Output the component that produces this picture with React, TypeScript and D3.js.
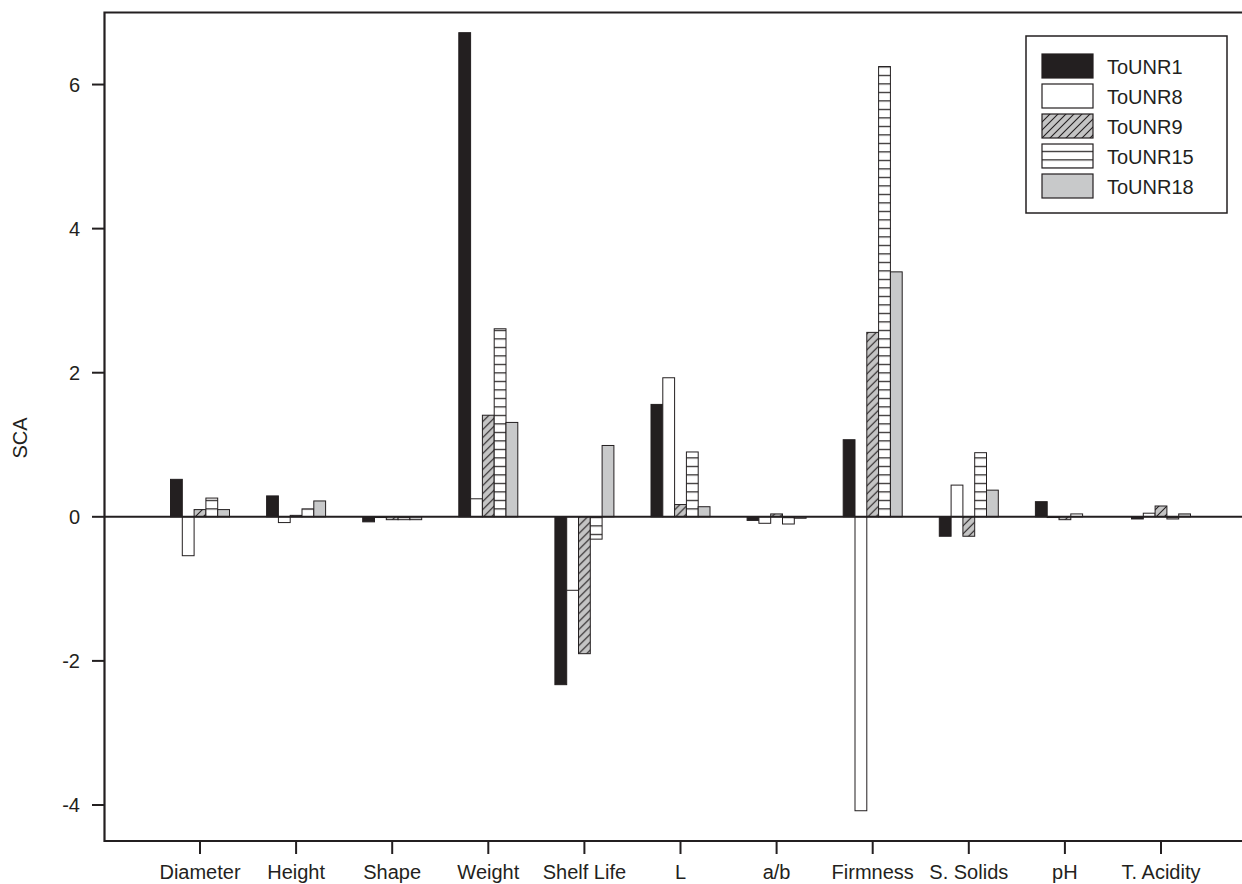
import React from "react";
import * as d3 from "d3";

// SCA values per trait, one array per line
const categories = ["Diameter", "Height", "Shape", "Weight", "Shelf Life", "L", "a/b", "Firmness", "S. Solids", "pH", "T. Acidity"];
const series = ["ToUNR1", "ToUNR8", "ToUNR9", "ToUNR15", "ToUNR18"];
const toUNR1 = [0.52, 0.29, -0.07, 6.72, -2.33, 1.56, -0.05, 1.07, -0.27, 0.21, -0.03];
const toUNR8 = [-0.54, -0.08, -0.01, 0.25, -1.02, 1.93, -0.09, -4.08, 0.44, -0.01, 0.05];
const toUNR9 = [0.1, 0.02, -0.04, 1.41, -1.9, 0.17, 0.04, 2.56, -0.27, -0.04, 0.15];
const toUNR15 = [0.26, 0.11, -0.04, 2.61, -0.31, 0.9, -0.1, 6.25, 0.89, 0.04, -0.03];
const toUNR18 = [0.1, 0.22, -0.04, 1.31, 0.99, 0.14, -0.02, 3.4, 0.37, 0.0, 0.04];
const yTicks = [-4, -2, 0, 2, 4, 6];

const values = [toUNR1, toUNR8, toUNR9, toUNR15, toUNR18];
const fills = ["#231f20", "#ffffff", "url(#hatch9)", "url(#lines15)", "#c8c9ca"];
const ink = "#231f20";
const font = "'Liberation Sans', Arial, Helvetica, sans-serif";

export default function App() {
  const width = 1242;
  const height = 884;
  const left = 104.5, top = 12.5, bottom = 841;

  const y = d3.scaleLinear().domain([-4.5, 7]).range([bottom, top]);
  const x = d3.scalePoint<string>().domain(categories).range([200, 1161]);
  const inner = d3.scaleBand<string>().domain(series).range([-29.5, 29.5]);
  const bw = inner.bandwidth();

  return (
    <svg width={width} height={height} style={{ position: "absolute", left: 0, top: 0, background: "#fff" }} fontFamily={font}>
      <defs>
        <pattern id="hatch9" patternUnits="userSpaceOnUse" width={8} height={8}>
          <rect width={8} height={8} fill="#c4c4c4" />
          <path d="M0,8 L8,0 M-2,2 L2,-2 M6,10 L10,6" stroke={ink} strokeWidth={1.1} />
        </pattern>
        <pattern id="lines15" patternUnits="userSpaceOnUse" width={8} height={8.5} y={y(0)}>
          <rect width={8} height={8.5} fill="#fff" />
          <line x1={0} x2={8} y1={0.6} y2={0.6} stroke={ink} strokeWidth={1.2} />
        </pattern>
      </defs>

      {/* bars */}
      {categories.map((c, i) => (
        <g key={c} transform={`translate(${x(c)},0)`}>
          {series.map((s, j) => {
            const v = values[j][i];
            const y0 = y(Math.max(0, v));
            const h = Math.abs(y(v) - y(0));
            return (
              <rect key={s} x={(inner(s) as number)} y={y0} width={bw} height={h}
                fill={fills[j]} stroke={ink} strokeWidth={1} />
            );
          })}
        </g>
      ))}

      {/* zero line */}
      <line x1={left} x2={1250} y1={y(0)} y2={y(0)} stroke={ink} strokeWidth={2} />

      {/* frame */}
      <path d={`M1250,${top} H${left} V${bottom} H1250`} fill="none" stroke={ink} strokeWidth={2.2} />

      {/* y axis */}
      {yTicks.map((t) => (
        <g key={t} transform={`translate(0,${y(t)})`}>
          <line x1={92} x2={left} stroke={ink} strokeWidth={2} />
          <text x={80} dy="0.36em" textAnchor="end" fontSize={20} fill={ink}>{t}</text>
        </g>
      ))}
      <text transform={`translate(27,${438}) rotate(-90)`} textAnchor="middle" fontSize={20} fill={ink}>SCA</text>

      {/* x axis */}
      {categories.map((c) => (
        <g key={c} transform={`translate(${x(c)},0)`}>
          <line y1={bottom} y2={854} stroke={ink} strokeWidth={2} />
          <text y={879} textAnchor="middle" fontSize={20} fill={ink}>{c}</text>
        </g>
      ))}

      {/* legend */}
      <rect x={1026} y={36} width={201} height={177} fill="#fff" stroke={ink} strokeWidth={1.5} />
      {series.map((s, j) => (
        <g key={s} transform={`translate(1042,${54 + j * 30})`}>
          <rect width={51} height={24} fill={fills[j]} stroke={ink} strokeWidth={1.2} />
          <text x={65} y={20} fontSize={20} fill={ink}>{s}</text>
        </g>
      ))}
    </svg>
  );
}
